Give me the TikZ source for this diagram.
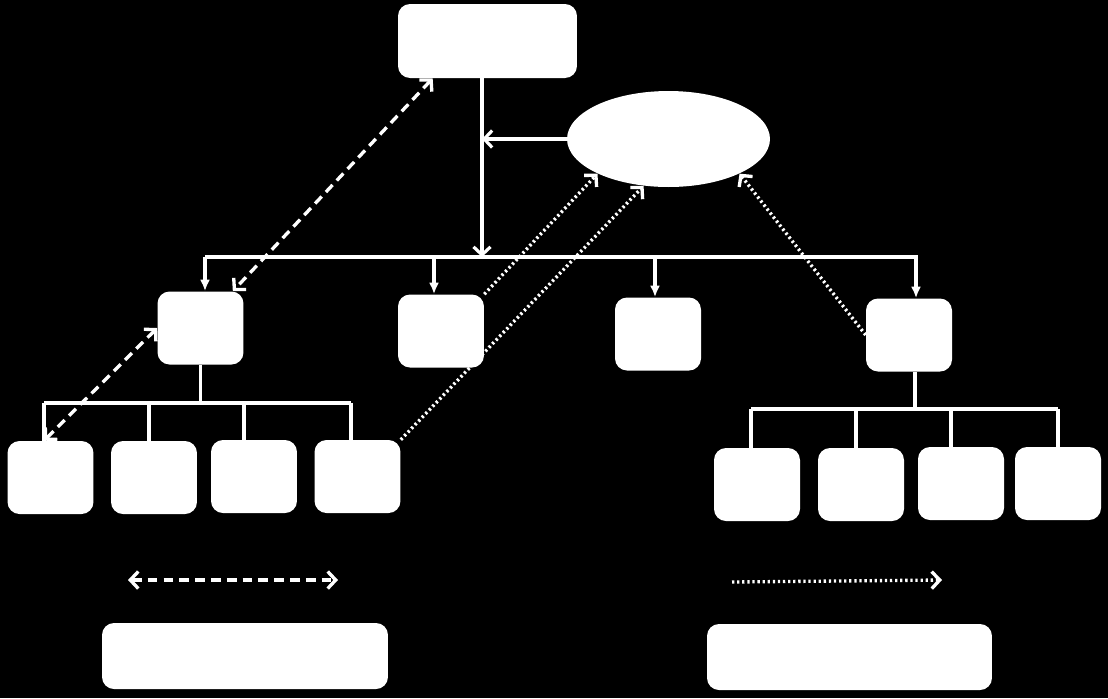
\documentclass[tikz,border=0pt]{standalone}
\usetikzlibrary{arrows.meta,shapes.geometric}
\tikzset{
  box/.style={fill=white,rounded corners=0.24cm,inner sep=0pt,minimum width=1.72cm,minimum height=1.46cm},
  line/.style={white,line width=1.8pt},
  drop/.style={line,-{Latex[length=2.3mm,width=2mm]}},
  barb/.style={line,-{Straight Barb[length=1.6mm,width=3.4mm]}},
  dashlink/.style={white,line width=1.9pt,dash pattern=on 5.5pt off 3.5pt,{Straight Barb[length=1.6mm,width=3.4mm]}-{Straight Barb[length=1.6mm,width=3.4mm]}},
  dotlink/.style={white,line width=1.9pt,dash pattern=on 1.3pt off 1.6pt,-{Straight Barb[length=1.6mm,width=3.4mm]}}
}
\begin{document}
\begin{tikzpicture}[x=0.02cm,y=-0.02cm]
	\fill[black] (0,0) rectangle (1108,698);
	% top level
	\node[box,minimum width=3.58cm,minimum height=1.48cm] (top) at (487.5,41) {};
	\node[ellipse,fill=white,inner sep=0pt,minimum width=4.06cm,minimum height=1.92cm] (ell) at (668.5,139) {};
	\coordinate (busL) at (205,257);
	\coordinate (busR) at (918,257);
	\draw[barb] ([xshift=-0.11cm]top.south) -- ([xshift=-0.11cm]top.south |- busL);
	\draw[barb] (ell.west) -- ([xshift=-0.11cm]ell.west -| top.south);
	\draw[line] (busL) -- (busR);
	% second level
	\node[box] (A) at (200.5,328) {};
	\node[box] (B) at (441,331) {};
	\node[box] (C) at (658,334) {};
	\node[box] (D) at (909,335) {};
	\foreach \n/\x in {A/205,B/434,C/655,D/916}
		\draw[drop] (\x,257) -- (\n.north -| \x,0);
	% leaves
	\foreach \n/\x/\y in {L1/50.5/477.5,L2/154/477.5,L3/254/476.5,L4/357.5/476.5,R1/757/484.5,R2/861/484.5,R3/961/483.5,R4/1058/483.5}
		\node[box] (\n) at (\x,\y) {};
	\coordinate (lbusL) at (44,403);
	\coordinate (lbusR) at (351,403);
	\coordinate (rbusL) at (751,409);
	\coordinate (rbusR) at (1058,409);
	\draw[line] (A.south) -- (A.south |- lbusL);
	\draw[line] (lbusL) -- (lbusR);
	\draw[line] ([xshift=0.12cm]D.south) -- ([xshift=0.12cm]D.south |- rbusL);
	\draw[line] (rbusL) -- (rbusR);
	\foreach \n/\x in {L1/44,L2/149,L3/244,L4/351}
		\draw[line] (\x,403) -- (\n.north -| \x,0);
	\foreach \n/\x in {R1/751,R2/856,R3/951,R4/1058}
		\draw[line] (\x,409) -- (\n.north -| \x,0);
	% links
	\draw[dashlink] ([xshift=0.7cm]top.south west) -- ([xshift=-0.22cm]A.north east);
	\draw[dashlink] (A.west) -- ([xshift=-0.13cm]L1.north);
	\draw[dotlink] (B.north east) -- (ell.206);
	\draw[dotlink] (L4.north east) -- (ell.242);
	\draw[dotlink] (D.west) -- (ell.334);
	% key
	\coordinate (dashA) at (128,580);
	\coordinate (dashB) at (338,580);
	\coordinate (dotA) at (732,582);
	\coordinate (dotB) at (942,580);
	\draw[dashlink] (dashA) -- (dashB);
	\draw[dotlink] (dotA) -- (dotB);
	\node[box,minimum width=5.72cm,minimum height=1.32cm] (keyL) at (245,656) {};
	\node[box,minimum width=5.7cm,minimum height=1.32cm] (keyR) at (849.5,657) {};
\end{tikzpicture}
\end{document}
